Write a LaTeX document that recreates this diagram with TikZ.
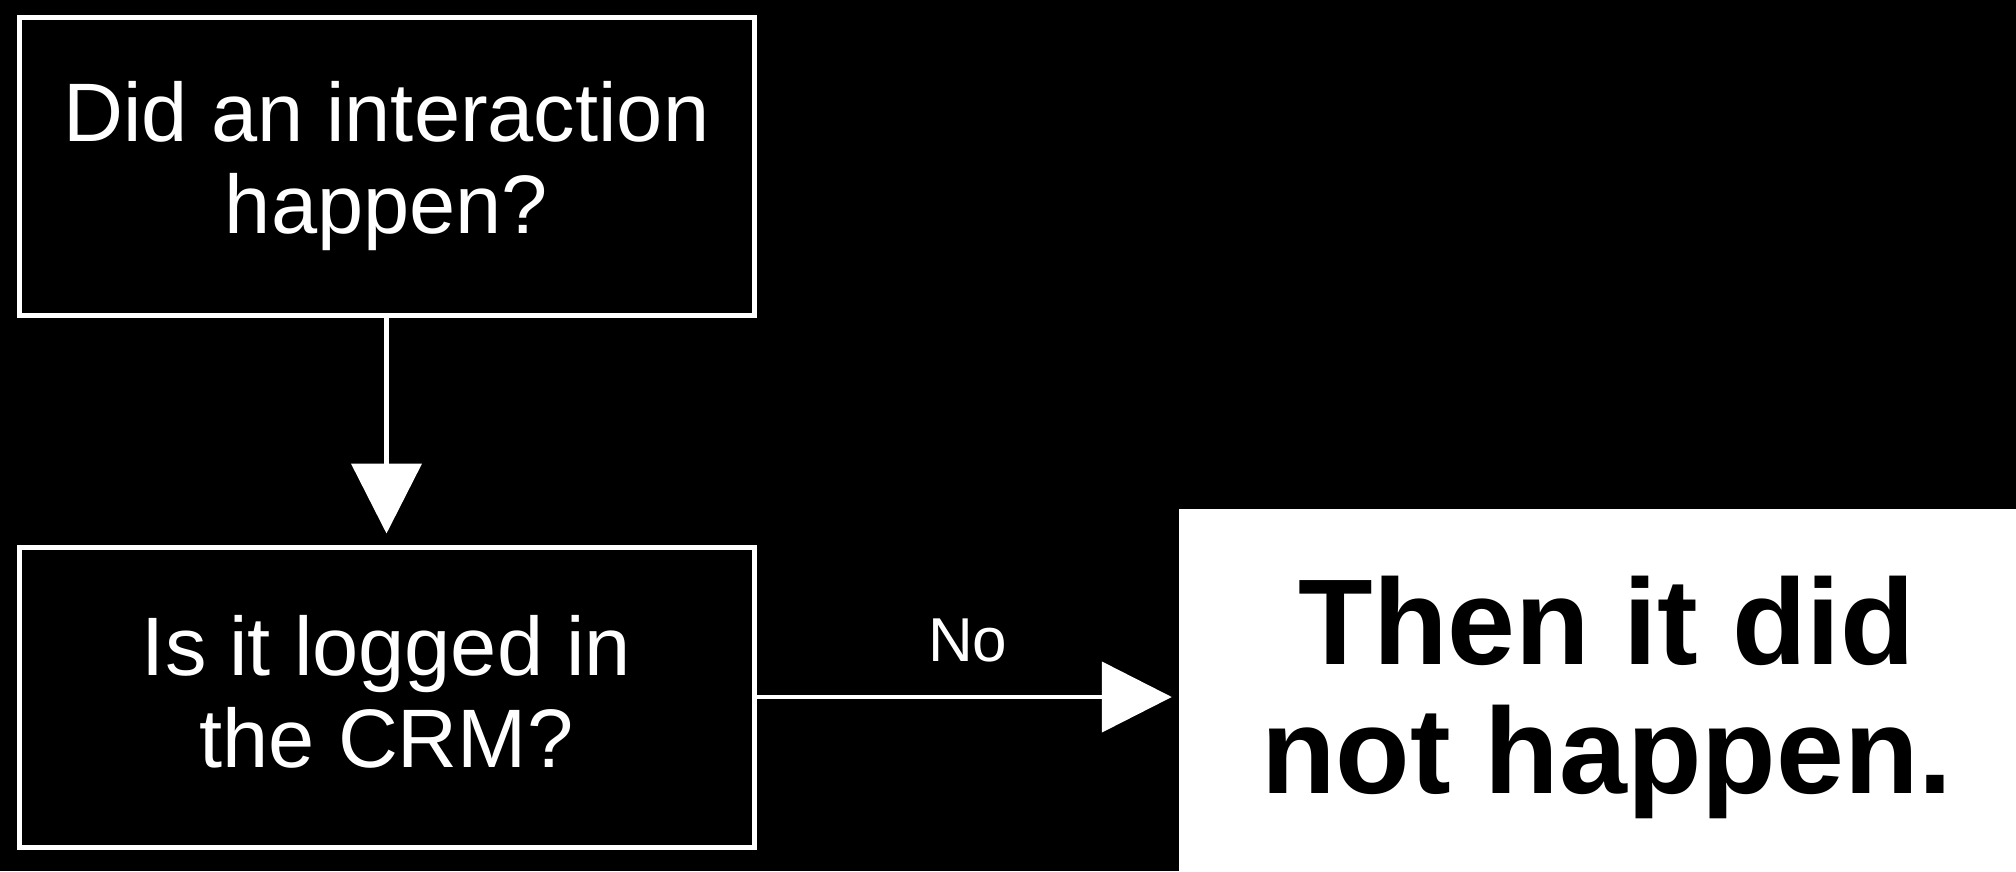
\documentclass[tikz,border=0pt]{standalone}
\usepackage{fontspec}
\setmainfont{Liberation Sans}
\usetikzlibrary{arrows.meta}
\begin{document}
\begin{tikzpicture}[x=1pt,y=-1pt,
  qbox/.style={draw=white, line width=5pt, fill=black, text=white,
    minimum width=735pt, minimum height=298pt, inner sep=0pt, align=center,
    font=\fontsize{83}{92}\selectfont},
  resbox/.style={fill=white, text=black, minimum width=856pt, minimum height=376pt,
    inner sep=0pt, align=center, font=\fontsize{122}{129}\selectfont\bfseries},
  flow/.style={draw=white, line width=4.5pt, -{Triangle[length=70pt,width=70pt]}},
  lbl/.style={text=white, font=\fontsize{62}{70}\selectfont, inner sep=0pt}
]
\fill[black] (0,0) rectangle (2016,871);
\useasboundingbox (0,0) rectangle (2016,871);
\node[qbox] (q1) at (386.5,166) {Did an interaction\\happen?};
\node[qbox, minimum height=300pt] (q2) at (386.5,697) {Is it logged in\\the CRM?\rule[-12pt]{0pt}{12pt}};
\node[resbox] (res) at (1607,697) {Then it did\\not happen.};
\draw[flow, shorten >=11pt] (q1) -- (q2);
\draw[flow, shorten >=7pt] (q2) -- node[lbl, pos=0.5, anchor=base, yshift=36pt] (no) {No} (res);
\end{tikzpicture}
\end{document}
